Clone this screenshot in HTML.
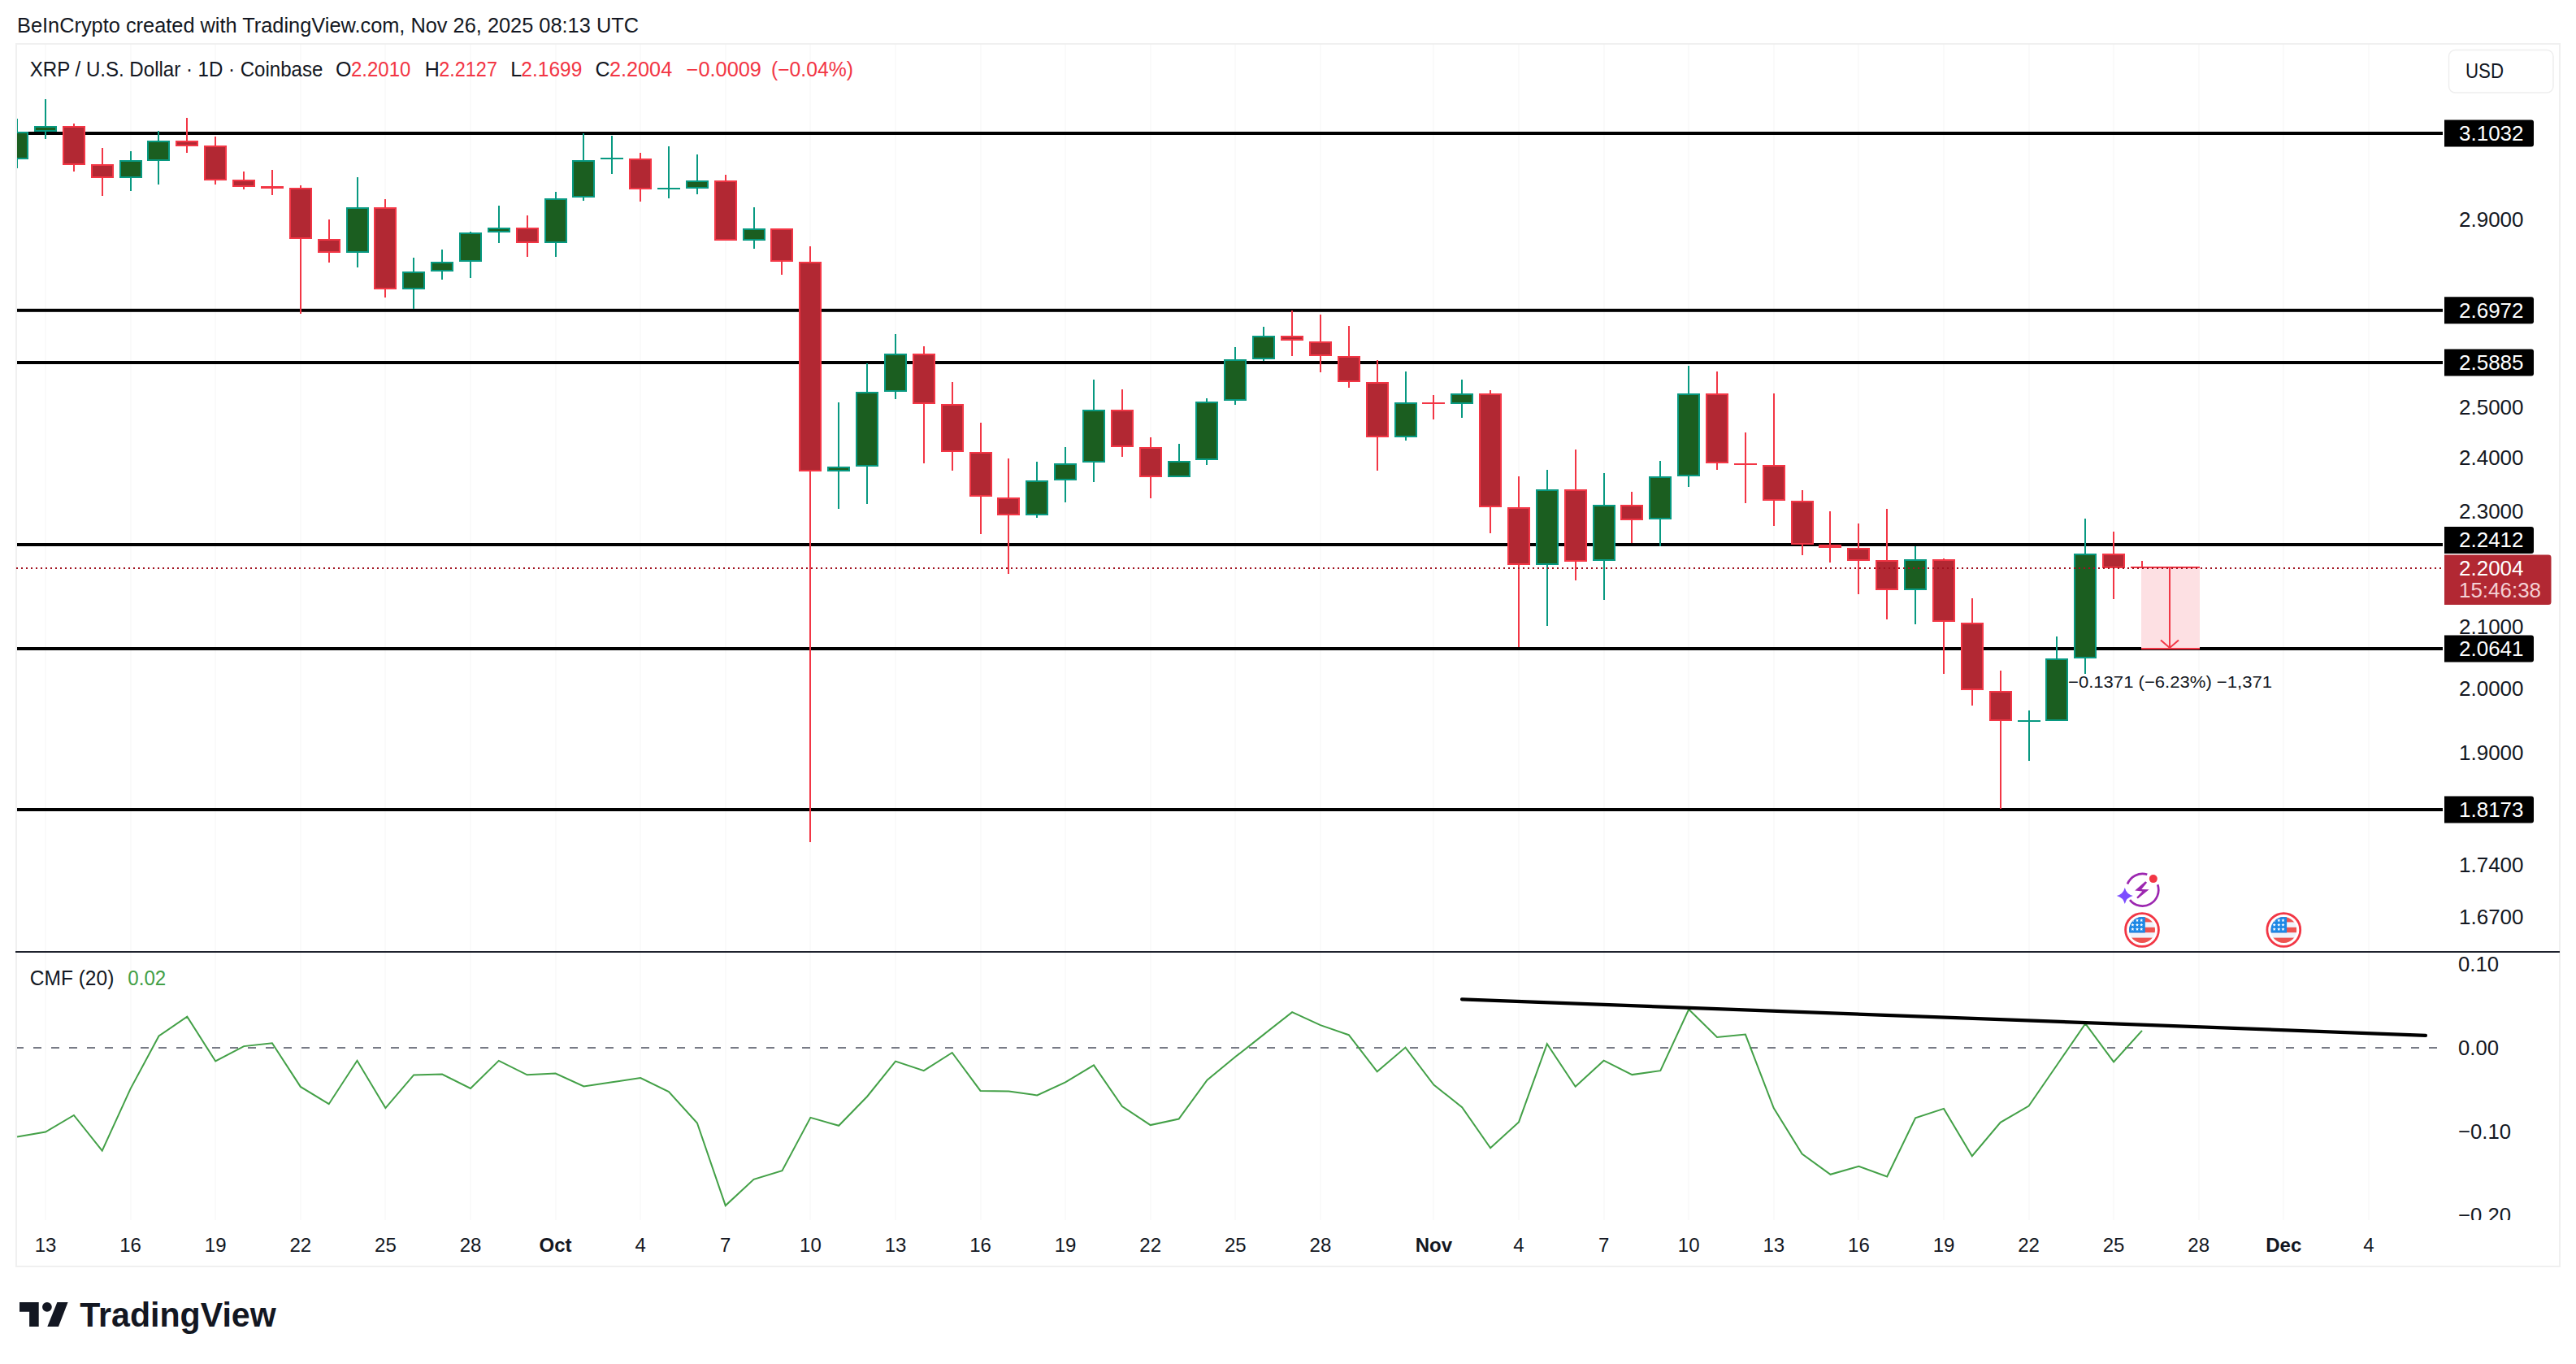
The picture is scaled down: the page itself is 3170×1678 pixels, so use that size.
<!DOCTYPE html><html><head><meta charset="utf-8"><title>XRP / U.S. Dollar chart</title>
<style>html,body{margin:0;padding:0;background:#fff;}body{width:3170px;height:1678px;overflow:hidden;position:relative;font-family:"Liberation Sans", sans-serif;}svg{position:absolute;left:0;top:0;display:block}</style>
</head><body>
<svg width="3170" height="1678" viewBox="0 0 3170 1678" font-family='"Liberation Sans", sans-serif'>
<defs><clipPath id="cp"><rect x="21" y="55" width="2985" height="1115"/></clipPath><clipPath id="cc"><rect x="21" y="1172" width="2985" height="329"/></clipPath><clipPath id="ca"><rect x="3006" y="1172" width="143" height="329"/></clipPath></defs>
<rect x="20" y="54" width="3130" height="1504" fill="none" stroke="#f0f0f0" stroke-width="2"/>
<rect x="55" y="55" width="2" height="1446" fill="#fafafa"/>
<rect x="160" y="55" width="2" height="1446" fill="#fafafa"/>
<rect x="264" y="55" width="2" height="1446" fill="#fafafa"/>
<rect x="369" y="55" width="2" height="1446" fill="#fafafa"/>
<rect x="473" y="55" width="2" height="1446" fill="#fafafa"/>
<rect x="578" y="55" width="2" height="1446" fill="#fafafa"/>
<rect x="683" y="55" width="2" height="1446" fill="#fafafa"/>
<rect x="787" y="55" width="2" height="1446" fill="#fafafa"/>
<rect x="892" y="55" width="2" height="1446" fill="#fafafa"/>
<rect x="996" y="55" width="2" height="1446" fill="#fafafa"/>
<rect x="1101" y="55" width="2" height="1446" fill="#fafafa"/>
<rect x="1206" y="55" width="2" height="1446" fill="#fafafa"/>
<rect x="1310" y="55" width="2" height="1446" fill="#fafafa"/>
<rect x="1415" y="55" width="2" height="1446" fill="#fafafa"/>
<rect x="1519" y="55" width="2" height="1446" fill="#fafafa"/>
<rect x="1624" y="55" width="2" height="1446" fill="#fafafa"/>
<rect x="1763" y="55" width="2" height="1446" fill="#fafafa"/>
<rect x="1868" y="55" width="2" height="1446" fill="#fafafa"/>
<rect x="1973" y="55" width="2" height="1446" fill="#fafafa"/>
<rect x="2077" y="55" width="2" height="1446" fill="#fafafa"/>
<rect x="2182" y="55" width="2" height="1446" fill="#fafafa"/>
<rect x="2286" y="55" width="2" height="1446" fill="#fafafa"/>
<rect x="2391" y="55" width="2" height="1446" fill="#fafafa"/>
<rect x="2496" y="55" width="2" height="1446" fill="#fafafa"/>
<rect x="2600" y="55" width="2" height="1446" fill="#fafafa"/>
<rect x="2705" y="55" width="2" height="1446" fill="#fafafa"/>
<rect x="2809" y="55" width="2" height="1446" fill="#fafafa"/>
<rect x="2914" y="55" width="2" height="1446" fill="#fafafa"/>
<text x="21" y="40" font-size="26" fill="#131722" textLength="765" lengthAdjust="spacingAndGlyphs">BeInCrypto created with TradingView.com, Nov 26, 2025 08:13 UTC</text>
<g clip-path="url(#cp)">
<rect x="19" y="162.0" width="2987" height="4" fill="#000"/>
<rect x="19" y="379.8" width="2987" height="4" fill="#000"/>
<rect x="19" y="444.0" width="2987" height="4" fill="#000"/>
<rect x="19" y="668.0" width="2987" height="4" fill="#000"/>
<rect x="19" y="796.0" width="2987" height="4" fill="#000"/>
<rect x="19" y="994.0" width="2987" height="4" fill="#000"/>
<rect x="20" y="146" width="2" height="61" fill="#089981"/>
<rect x="7" y="162" width="28" height="34" fill="#089981"/>
<rect x="9" y="164" width="24" height="30" fill="#1b5e20"/>
<rect x="55" y="122" width="2" height="49" fill="#089981"/>
<rect x="42" y="155" width="28" height="7" fill="#089981"/>
<rect x="44" y="157" width="24" height="3" fill="#1b5e20"/>
<rect x="90" y="152" width="2" height="59" fill="#f23645"/>
<rect x="77" y="155" width="28" height="48" fill="#f23645"/>
<rect x="79" y="157" width="24" height="44" fill="#b22833"/>
<rect x="125" y="182" width="2" height="59" fill="#f23645"/>
<rect x="112" y="202" width="28" height="17" fill="#f23645"/>
<rect x="114" y="204" width="24" height="13" fill="#b22833"/>
<rect x="160" y="186" width="2" height="49" fill="#089981"/>
<rect x="147" y="197" width="28" height="22" fill="#089981"/>
<rect x="149" y="199" width="24" height="18" fill="#1b5e20"/>
<rect x="194" y="161" width="2" height="66" fill="#089981"/>
<rect x="181" y="173" width="28" height="25" fill="#089981"/>
<rect x="183" y="175" width="24" height="21" fill="#1b5e20"/>
<rect x="229" y="145" width="2" height="43" fill="#f23645"/>
<rect x="216" y="173" width="28" height="7" fill="#f23645"/>
<rect x="218" y="175" width="24" height="3" fill="#b22833"/>
<rect x="264" y="168" width="2" height="59" fill="#f23645"/>
<rect x="251" y="179" width="28" height="43" fill="#f23645"/>
<rect x="253" y="181" width="24" height="39" fill="#b22833"/>
<rect x="299" y="211" width="2" height="22" fill="#f23645"/>
<rect x="286" y="221" width="28" height="9" fill="#f23645"/>
<rect x="288" y="223" width="24" height="5" fill="#b22833"/>
<rect x="334" y="209" width="2" height="31" fill="#f23645"/>
<rect x="321" y="229" width="28" height="3" fill="#f23645"/>
<rect x="369" y="228" width="2" height="158" fill="#f23645"/>
<rect x="356" y="231" width="28" height="63" fill="#f23645"/>
<rect x="358" y="233" width="24" height="59" fill="#b22833"/>
<rect x="404" y="270" width="2" height="53" fill="#f23645"/>
<rect x="391" y="294" width="28" height="17" fill="#f23645"/>
<rect x="393" y="296" width="24" height="13" fill="#b22833"/>
<rect x="439" y="218" width="2" height="111" fill="#089981"/>
<rect x="426" y="255" width="28" height="56" fill="#089981"/>
<rect x="428" y="257" width="24" height="52" fill="#1b5e20"/>
<rect x="473" y="245" width="2" height="121" fill="#f23645"/>
<rect x="460" y="255" width="28" height="101" fill="#f23645"/>
<rect x="462" y="257" width="24" height="97" fill="#b22833"/>
<rect x="508" y="317" width="2" height="63" fill="#089981"/>
<rect x="495" y="334" width="28" height="22" fill="#089981"/>
<rect x="497" y="336" width="24" height="18" fill="#1b5e20"/>
<rect x="543" y="307" width="2" height="37" fill="#089981"/>
<rect x="530" y="322" width="28" height="12" fill="#089981"/>
<rect x="532" y="324" width="24" height="8" fill="#1b5e20"/>
<rect x="578" y="285" width="2" height="57" fill="#089981"/>
<rect x="565" y="286" width="28" height="36" fill="#089981"/>
<rect x="567" y="288" width="24" height="32" fill="#1b5e20"/>
<rect x="613" y="253" width="2" height="46" fill="#089981"/>
<rect x="600" y="280" width="28" height="6" fill="#089981"/>
<rect x="602" y="282" width="24" height="2" fill="#1b5e20"/>
<rect x="648" y="265" width="2" height="51" fill="#f23645"/>
<rect x="635" y="280" width="28" height="19" fill="#f23645"/>
<rect x="637" y="282" width="24" height="15" fill="#b22833"/>
<rect x="683" y="236" width="2" height="80" fill="#089981"/>
<rect x="670" y="244" width="28" height="55" fill="#089981"/>
<rect x="672" y="246" width="24" height="51" fill="#1b5e20"/>
<rect x="717" y="164" width="2" height="83" fill="#089981"/>
<rect x="704" y="197" width="28" height="46" fill="#089981"/>
<rect x="706" y="199" width="24" height="42" fill="#1b5e20"/>
<rect x="752" y="167" width="2" height="47" fill="#089981"/>
<rect x="739" y="194" width="28" height="2" fill="#089981"/>
<rect x="787" y="188" width="2" height="60" fill="#f23645"/>
<rect x="774" y="195" width="28" height="38" fill="#f23645"/>
<rect x="776" y="197" width="24" height="34" fill="#b22833"/>
<rect x="822" y="180" width="2" height="64" fill="#089981"/>
<rect x="809" y="231" width="28" height="2" fill="#089981"/>
<rect x="857" y="190" width="2" height="49" fill="#089981"/>
<rect x="844" y="222" width="28" height="10" fill="#089981"/>
<rect x="846" y="224" width="24" height="6" fill="#1b5e20"/>
<rect x="892" y="215" width="2" height="81" fill="#f23645"/>
<rect x="879" y="222" width="28" height="74" fill="#f23645"/>
<rect x="881" y="224" width="24" height="70" fill="#b22833"/>
<rect x="927" y="255" width="2" height="51" fill="#089981"/>
<rect x="914" y="281" width="28" height="15" fill="#089981"/>
<rect x="916" y="283" width="24" height="11" fill="#1b5e20"/>
<rect x="961" y="281" width="2" height="57" fill="#f23645"/>
<rect x="948" y="281" width="28" height="41" fill="#f23645"/>
<rect x="950" y="283" width="24" height="37" fill="#b22833"/>
<rect x="996" y="303" width="2" height="733" fill="#f23645"/>
<rect x="983" y="322" width="28" height="258" fill="#f23645"/>
<rect x="985" y="324" width="24" height="254" fill="#b22833"/>
<rect x="1031" y="495" width="2" height="131" fill="#089981"/>
<rect x="1018" y="574" width="28" height="6" fill="#089981"/>
<rect x="1020" y="576" width="24" height="2" fill="#1b5e20"/>
<rect x="1066" y="447" width="2" height="173" fill="#089981"/>
<rect x="1053" y="482" width="28" height="92" fill="#089981"/>
<rect x="1055" y="484" width="24" height="88" fill="#1b5e20"/>
<rect x="1101" y="411" width="2" height="80" fill="#089981"/>
<rect x="1088" y="435" width="28" height="47" fill="#089981"/>
<rect x="1090" y="437" width="24" height="43" fill="#1b5e20"/>
<rect x="1136" y="426" width="2" height="144" fill="#f23645"/>
<rect x="1123" y="435" width="28" height="62" fill="#f23645"/>
<rect x="1125" y="437" width="24" height="58" fill="#b22833"/>
<rect x="1171" y="470" width="2" height="109" fill="#f23645"/>
<rect x="1158" y="497" width="28" height="59" fill="#f23645"/>
<rect x="1160" y="499" width="24" height="55" fill="#b22833"/>
<rect x="1206" y="520" width="2" height="137" fill="#f23645"/>
<rect x="1193" y="556" width="28" height="55" fill="#f23645"/>
<rect x="1195" y="558" width="24" height="51" fill="#b22833"/>
<rect x="1240" y="564" width="2" height="142" fill="#f23645"/>
<rect x="1227" y="612" width="28" height="22" fill="#f23645"/>
<rect x="1229" y="614" width="24" height="18" fill="#b22833"/>
<rect x="1275" y="568" width="2" height="69" fill="#089981"/>
<rect x="1262" y="591" width="28" height="43" fill="#089981"/>
<rect x="1264" y="593" width="24" height="39" fill="#1b5e20"/>
<rect x="1310" y="550" width="2" height="68" fill="#089981"/>
<rect x="1297" y="570" width="28" height="21" fill="#089981"/>
<rect x="1299" y="572" width="24" height="17" fill="#1b5e20"/>
<rect x="1345" y="467" width="2" height="126" fill="#089981"/>
<rect x="1332" y="504" width="28" height="65" fill="#089981"/>
<rect x="1334" y="506" width="24" height="61" fill="#1b5e20"/>
<rect x="1380" y="479" width="2" height="83" fill="#f23645"/>
<rect x="1367" y="504" width="28" height="46" fill="#f23645"/>
<rect x="1369" y="506" width="24" height="42" fill="#b22833"/>
<rect x="1415" y="538" width="2" height="75" fill="#f23645"/>
<rect x="1402" y="550" width="28" height="37" fill="#f23645"/>
<rect x="1404" y="552" width="24" height="33" fill="#b22833"/>
<rect x="1450" y="546" width="2" height="41" fill="#089981"/>
<rect x="1437" y="567" width="28" height="20" fill="#089981"/>
<rect x="1439" y="569" width="24" height="16" fill="#1b5e20"/>
<rect x="1484" y="490" width="2" height="82" fill="#089981"/>
<rect x="1471" y="494" width="28" height="72" fill="#089981"/>
<rect x="1473" y="496" width="24" height="68" fill="#1b5e20"/>
<rect x="1519" y="427" width="2" height="71" fill="#089981"/>
<rect x="1506" y="442" width="28" height="51" fill="#089981"/>
<rect x="1508" y="444" width="24" height="47" fill="#1b5e20"/>
<rect x="1554" y="402" width="2" height="42" fill="#089981"/>
<rect x="1541" y="413" width="28" height="29" fill="#089981"/>
<rect x="1543" y="415" width="24" height="25" fill="#1b5e20"/>
<rect x="1589" y="382" width="2" height="56" fill="#f23645"/>
<rect x="1576" y="413" width="28" height="6" fill="#f23645"/>
<rect x="1578" y="415" width="24" height="2" fill="#b22833"/>
<rect x="1624" y="387" width="2" height="71" fill="#f23645"/>
<rect x="1611" y="420" width="28" height="18" fill="#f23645"/>
<rect x="1613" y="422" width="24" height="14" fill="#b22833"/>
<rect x="1659" y="401" width="2" height="76" fill="#f23645"/>
<rect x="1646" y="438" width="28" height="32" fill="#f23645"/>
<rect x="1648" y="440" width="24" height="28" fill="#b22833"/>
<rect x="1694" y="443" width="2" height="136" fill="#f23645"/>
<rect x="1681" y="470" width="28" height="68" fill="#f23645"/>
<rect x="1683" y="472" width="24" height="64" fill="#b22833"/>
<rect x="1729" y="457" width="2" height="85" fill="#089981"/>
<rect x="1716" y="495" width="28" height="43" fill="#089981"/>
<rect x="1718" y="497" width="24" height="39" fill="#1b5e20"/>
<rect x="1763" y="486" width="2" height="30" fill="#f23645"/>
<rect x="1750" y="495" width="28" height="2" fill="#f23645"/>
<rect x="1798" y="467" width="2" height="47" fill="#089981"/>
<rect x="1785" y="484" width="28" height="13" fill="#089981"/>
<rect x="1787" y="486" width="24" height="9" fill="#1b5e20"/>
<rect x="1833" y="480" width="2" height="176" fill="#f23645"/>
<rect x="1820" y="484" width="28" height="140" fill="#f23645"/>
<rect x="1822" y="486" width="24" height="136" fill="#b22833"/>
<rect x="1868" y="586" width="2" height="210" fill="#f23645"/>
<rect x="1855" y="624" width="28" height="71" fill="#f23645"/>
<rect x="1857" y="626" width="24" height="67" fill="#b22833"/>
<rect x="1903" y="578" width="2" height="192" fill="#089981"/>
<rect x="1890" y="602" width="28" height="93" fill="#089981"/>
<rect x="1892" y="604" width="24" height="89" fill="#1b5e20"/>
<rect x="1938" y="553" width="2" height="161" fill="#f23645"/>
<rect x="1925" y="602" width="28" height="89" fill="#f23645"/>
<rect x="1927" y="604" width="24" height="85" fill="#b22833"/>
<rect x="1973" y="582" width="2" height="156" fill="#089981"/>
<rect x="1960" y="621" width="28" height="69" fill="#089981"/>
<rect x="1962" y="623" width="24" height="65" fill="#1b5e20"/>
<rect x="2007" y="605" width="2" height="63" fill="#f23645"/>
<rect x="1994" y="621" width="28" height="19" fill="#f23645"/>
<rect x="1996" y="623" width="24" height="15" fill="#b22833"/>
<rect x="2042" y="567" width="2" height="105" fill="#089981"/>
<rect x="2029" y="586" width="28" height="53" fill="#089981"/>
<rect x="2031" y="588" width="24" height="49" fill="#1b5e20"/>
<rect x="2077" y="450" width="2" height="149" fill="#089981"/>
<rect x="2064" y="484" width="28" height="102" fill="#089981"/>
<rect x="2066" y="486" width="24" height="98" fill="#1b5e20"/>
<rect x="2112" y="457" width="2" height="121" fill="#f23645"/>
<rect x="2099" y="484" width="28" height="86" fill="#f23645"/>
<rect x="2101" y="486" width="24" height="82" fill="#b22833"/>
<rect x="2147" y="532" width="2" height="87" fill="#f23645"/>
<rect x="2134" y="570" width="28" height="2" fill="#f23645"/>
<rect x="2182" y="484" width="2" height="163" fill="#f23645"/>
<rect x="2169" y="572" width="28" height="44" fill="#f23645"/>
<rect x="2171" y="574" width="24" height="40" fill="#b22833"/>
<rect x="2217" y="603" width="2" height="80" fill="#f23645"/>
<rect x="2204" y="616" width="28" height="54" fill="#f23645"/>
<rect x="2206" y="618" width="24" height="50" fill="#b22833"/>
<rect x="2251" y="629" width="2" height="63" fill="#f23645"/>
<rect x="2238" y="670" width="28" height="4" fill="#f23645"/>
<rect x="2286" y="644" width="2" height="87" fill="#f23645"/>
<rect x="2273" y="674" width="28" height="16" fill="#f23645"/>
<rect x="2275" y="676" width="24" height="12" fill="#b22833"/>
<rect x="2321" y="626" width="2" height="136" fill="#f23645"/>
<rect x="2308" y="689" width="28" height="37" fill="#f23645"/>
<rect x="2310" y="691" width="24" height="33" fill="#b22833"/>
<rect x="2356" y="672" width="2" height="96" fill="#089981"/>
<rect x="2343" y="688" width="28" height="38" fill="#089981"/>
<rect x="2345" y="690" width="24" height="34" fill="#1b5e20"/>
<rect x="2391" y="687" width="2" height="142" fill="#f23645"/>
<rect x="2378" y="688" width="28" height="77" fill="#f23645"/>
<rect x="2380" y="690" width="24" height="73" fill="#b22833"/>
<rect x="2426" y="736" width="2" height="132" fill="#f23645"/>
<rect x="2413" y="766" width="28" height="83" fill="#f23645"/>
<rect x="2415" y="768" width="24" height="79" fill="#b22833"/>
<rect x="2461" y="825" width="2" height="170" fill="#f23645"/>
<rect x="2448" y="850" width="28" height="37" fill="#f23645"/>
<rect x="2450" y="852" width="24" height="33" fill="#b22833"/>
<rect x="2496" y="874" width="2" height="62" fill="#089981"/>
<rect x="2483" y="886" width="28" height="2" fill="#089981"/>
<rect x="2530" y="783" width="2" height="104" fill="#089981"/>
<rect x="2517" y="810" width="28" height="77" fill="#089981"/>
<rect x="2519" y="812" width="24" height="73" fill="#1b5e20"/>
<rect x="2565" y="638" width="2" height="191" fill="#089981"/>
<rect x="2552" y="681" width="28" height="129" fill="#089981"/>
<rect x="2554" y="683" width="24" height="125" fill="#1b5e20"/>
<rect x="2600" y="654" width="2" height="83" fill="#f23645"/>
<rect x="2587" y="681" width="28" height="18" fill="#f23645"/>
<rect x="2589" y="683" width="24" height="14" fill="#b22833"/>
<rect x="2635" y="690" width="2" height="30" fill="#f23645"/>
<rect x="2622" y="697" width="28" height="2" fill="#f23645"/>
</g>
<rect x="2635" y="698" width="72" height="100" fill="#fde0e3"/>
<rect x="2635" y="697" width="72" height="2" fill="#f23645"/>
<rect x="2635" y="797" width="72" height="2" fill="#f23645"/>
<rect x="2669" y="698" width="2" height="99" fill="#f23645"/>
<polyline points="2659,787.5 2670,797 2681,787.5" fill="none" stroke="#f23645" stroke-width="2"/>
<text x="2545" y="846" font-size="21" fill="#131722" textLength="251" lengthAdjust="spacingAndGlyphs">−0.1371 (−6.23%) −1,371</text>
<line x1="20" y1="699" x2="3006" y2="699" stroke="#a0101e" stroke-width="2" stroke-dasharray="2 4"/>
<text x="36.8" y="94.0" font-size="25" fill="#131722" textLength="360.6" lengthAdjust="spacingAndGlyphs">XRP / U.S. Dollar · 1D · Coinbase</text>
<text x="413.0" y="94.0" font-size="25" fill="#131722">O</text>
<text x="432.0" y="94.0" font-size="25" fill="#f23645" textLength="73.3" lengthAdjust="spacingAndGlyphs">2.2010</text>
<text x="522.8" y="94.0" font-size="25" fill="#131722">H</text>
<text x="540.2" y="94.0" font-size="25" fill="#f23645" textLength="71.8" lengthAdjust="spacingAndGlyphs">2.2127</text>
<text x="628.3" y="94.0" font-size="25" fill="#131722">L</text>
<text x="641.3" y="94.0" font-size="25" fill="#f23645" textLength="75.0" lengthAdjust="spacingAndGlyphs">2.1699</text>
<text x="732.6" y="94.0" font-size="25" fill="#131722">C</text>
<text x="750.0" y="94.0" font-size="25" fill="#f23645" textLength="77.2" lengthAdjust="spacingAndGlyphs">2.2004</text>
<text x="844.6" y="94.0" font-size="25" fill="#f23645" textLength="92.4" lengthAdjust="spacingAndGlyphs">−0.0009</text>
<text x="948.9" y="94.0" font-size="25" fill="#f23645" textLength="101.1" lengthAdjust="spacingAndGlyphs">(−0.04%)</text>
<rect x="3013.5" y="61.5" width="128.5" height="52.5" rx="8" ry="8" fill="#fff" stroke="#eeeeee" stroke-width="1.5"/>
<text x="3034.0" y="96.0" font-size="25" fill="#131722" textLength="47.0" lengthAdjust="spacingAndGlyphs">USD</text>
<text x="3026.0" y="278.7" font-size="26" fill="#131722" textLength="79.5" lengthAdjust="spacingAndGlyphs">2.9000</text>
<text x="3026.0" y="509.6" font-size="26" fill="#131722" textLength="79.5" lengthAdjust="spacingAndGlyphs">2.5000</text>
<text x="3026.0" y="572.3" font-size="26" fill="#131722" textLength="79.5" lengthAdjust="spacingAndGlyphs">2.4000</text>
<text x="3026.0" y="638.3" font-size="26" fill="#131722" textLength="79.5" lengthAdjust="spacingAndGlyphs">2.3000</text>
<text x="3026.0" y="780.4" font-size="26" fill="#131722" textLength="79.5" lengthAdjust="spacingAndGlyphs">2.1000</text>
<text x="3026.0" y="855.6" font-size="26" fill="#131722" textLength="79.5" lengthAdjust="spacingAndGlyphs">2.0000</text>
<text x="3026.0" y="935.4" font-size="26" fill="#131722" textLength="79.5" lengthAdjust="spacingAndGlyphs">1.9000</text>
<text x="3026.0" y="1072.6" font-size="26" fill="#131722" textLength="79.5" lengthAdjust="spacingAndGlyphs">1.7400</text>
<text x="3026.0" y="1136.8" font-size="26" fill="#131722" textLength="79.5" lengthAdjust="spacingAndGlyphs">1.6700</text>
<path d="M3008 147.5 H3115 a3 3 0 0 1 3 3 V177.5 a3 3 0 0 1 -3 3 H3008 Z" fill="#000"/>
<text x="3026.0" y="172.8" font-size="26" fill="#fff" textLength="79.5" lengthAdjust="spacingAndGlyphs">3.1032</text>
<path d="M3008 365.3 H3115 a3 3 0 0 1 3 3 V395.3 a3 3 0 0 1 -3 3 H3008 Z" fill="#000"/>
<text x="3026.0" y="390.6" font-size="26" fill="#fff" textLength="79.5" lengthAdjust="spacingAndGlyphs">2.6972</text>
<path d="M3008 429.5 H3115 a3 3 0 0 1 3 3 V459.5 a3 3 0 0 1 -3 3 H3008 Z" fill="#000"/>
<text x="3026.0" y="454.8" font-size="26" fill="#fff" textLength="79.5" lengthAdjust="spacingAndGlyphs">2.5885</text>
<path d="M3008 648.0 H3115 a3 3 0 0 1 3 3 V678.0 a3 3 0 0 1 -3 3 H3008 Z" fill="#000"/>
<text x="3026.0" y="673.3" font-size="26" fill="#fff" textLength="79.5" lengthAdjust="spacingAndGlyphs">2.2412</text>
<path d="M3008 781.5 H3115 a3 3 0 0 1 3 3 V811.5 a3 3 0 0 1 -3 3 H3008 Z" fill="#000"/>
<text x="3026.0" y="806.8" font-size="26" fill="#fff" textLength="79.5" lengthAdjust="spacingAndGlyphs">2.0641</text>
<path d="M3008 979.5 H3115 a3 3 0 0 1 3 3 V1009.5 a3 3 0 0 1 -3 3 H3008 Z" fill="#000"/>
<text x="3026.0" y="1004.8" font-size="26" fill="#fff" textLength="79.5" lengthAdjust="spacingAndGlyphs">1.8173</text>
<path d="M3008 682.5 H3136 a3.5 3.5 0 0 1 3.5 3.5 V740.5 a3.5 3.5 0 0 1 -3.5 3.5 H3008 Z" fill="#b22833"/>
<text x="3026.0" y="707.5" font-size="26" fill="#fff" textLength="79.5" lengthAdjust="spacingAndGlyphs">2.2004</text>
<text x="3026.0" y="735.4" font-size="26" fill="#f4d0d4" textLength="101.0" lengthAdjust="spacingAndGlyphs">15:46:38</text>
<g>
<path d="M2642.3 1075.8 A19.8 19.8 0 0 0 2618.0 1087.6" fill="none" stroke="#9c27b0" stroke-width="2.7"/>
<path d="M2655.2 1088.3 A19.8 19.8 0 0 1 2621.0 1107.1" fill="none" stroke="#9c27b0" stroke-width="2.7"/>
<circle cx="2649.8" cy="1081.1" r="5" fill="#f23645"/>
<path d="M2640.1 1084.2 L2642.1 1085.8 L2635.3 1093.9 L2644.6 1094.3 L2630.8 1105.6 L2629.2 1104 L2636.3 1096.6 L2627.2 1095.5 Z" fill="#9c27b0"/>
<path d="M2614.8 1091.9 Q2616.8 1099.9 2624.8 1101.9 Q2616.8 1103.9 2614.8 1111.9 Q2612.8 1103.9 2604.8 1101.9 Q2612.8 1099.9 2614.8 1091.9 Z" fill="#7c4dff"/>
<circle cx="2636.0" cy="1144.0" r="20.4" fill="#fff" stroke="#f23645" stroke-width="2.8"/>
<clipPath id="fl2636"><circle cx="2636.0" cy="1144.0" r="16"/></clipPath>
<g clip-path="url(#fl2636)">
<rect x="2620.0" y="1128.0" width="32" height="32" fill="#f0f3fa"/>
<rect x="2620.0" y="1128.0" width="32" height="6.4" fill="#ef5350"/>
<rect x="2620.0" y="1140.8" width="32" height="6.4" fill="#ef5350"/>
<rect x="2620.0" y="1153.6" width="32" height="6.4" fill="#ef5350"/>
<rect x="2620.0" y="1128.0" width="19.8" height="19.5" fill="#1e88e5"/>
<polygon points="2624.40,1130.00 2624.98,1131.40 2626.49,1131.52 2625.34,1132.51 2625.69,1133.98 2624.40,1133.19 2623.11,1133.98 2623.46,1132.51 2622.31,1131.52 2623.82,1131.40" fill="#fff"/>
<polygon points="2624.40,1135.60 2624.98,1137.00 2626.49,1137.12 2625.34,1138.11 2625.69,1139.58 2624.40,1138.79 2623.11,1139.58 2623.46,1138.11 2622.31,1137.12 2623.82,1137.00" fill="#fff"/>
<polygon points="2624.40,1140.90 2624.98,1142.30 2626.49,1142.42 2625.34,1143.41 2625.69,1144.88 2624.40,1144.09 2623.11,1144.88 2623.46,1143.41 2622.31,1142.42 2623.82,1142.30" fill="#fff"/>
<polygon points="2630.00,1130.00 2630.58,1131.40 2632.09,1131.52 2630.94,1132.51 2631.29,1133.98 2630.00,1133.19 2628.71,1133.98 2629.06,1132.51 2627.91,1131.52 2629.42,1131.40" fill="#fff"/>
<polygon points="2630.00,1135.60 2630.58,1137.00 2632.09,1137.12 2630.94,1138.11 2631.29,1139.58 2630.00,1138.79 2628.71,1139.58 2629.06,1138.11 2627.91,1137.12 2629.42,1137.00" fill="#fff"/>
<polygon points="2630.00,1140.90 2630.58,1142.30 2632.09,1142.42 2630.94,1143.41 2631.29,1144.88 2630.00,1144.09 2628.71,1144.88 2629.06,1143.41 2627.91,1142.42 2629.42,1142.30" fill="#fff"/>
<polygon points="2635.20,1130.00 2635.78,1131.40 2637.29,1131.52 2636.14,1132.51 2636.49,1133.98 2635.20,1133.19 2633.91,1133.98 2634.26,1132.51 2633.11,1131.52 2634.62,1131.40" fill="#fff"/>
<polygon points="2635.20,1135.60 2635.78,1137.00 2637.29,1137.12 2636.14,1138.11 2636.49,1139.58 2635.20,1138.79 2633.91,1139.58 2634.26,1138.11 2633.11,1137.12 2634.62,1137.00" fill="#fff"/>
<polygon points="2635.20,1140.90 2635.78,1142.30 2637.29,1142.42 2636.14,1143.41 2636.49,1144.88 2635.20,1144.09 2633.91,1144.88 2634.26,1143.41 2633.11,1142.42 2634.62,1142.30" fill="#fff"/>
</g>
<circle cx="2810.3" cy="1144.0" r="20.4" fill="#fff" stroke="#f23645" stroke-width="2.8"/>
<clipPath id="fl2810"><circle cx="2810.3" cy="1144.0" r="16"/></clipPath>
<g clip-path="url(#fl2810)">
<rect x="2794.3" y="1128.0" width="32" height="32" fill="#f0f3fa"/>
<rect x="2794.3" y="1128.0" width="32" height="6.4" fill="#ef5350"/>
<rect x="2794.3" y="1140.8" width="32" height="6.4" fill="#ef5350"/>
<rect x="2794.3" y="1153.6" width="32" height="6.4" fill="#ef5350"/>
<rect x="2794.3" y="1128.0" width="19.8" height="19.5" fill="#1e88e5"/>
<polygon points="2798.70,1130.00 2799.28,1131.40 2800.79,1131.52 2799.64,1132.51 2799.99,1133.98 2798.70,1133.19 2797.41,1133.98 2797.76,1132.51 2796.61,1131.52 2798.12,1131.40" fill="#fff"/>
<polygon points="2798.70,1135.60 2799.28,1137.00 2800.79,1137.12 2799.64,1138.11 2799.99,1139.58 2798.70,1138.79 2797.41,1139.58 2797.76,1138.11 2796.61,1137.12 2798.12,1137.00" fill="#fff"/>
<polygon points="2798.70,1140.90 2799.28,1142.30 2800.79,1142.42 2799.64,1143.41 2799.99,1144.88 2798.70,1144.09 2797.41,1144.88 2797.76,1143.41 2796.61,1142.42 2798.12,1142.30" fill="#fff"/>
<polygon points="2804.30,1130.00 2804.88,1131.40 2806.39,1131.52 2805.24,1132.51 2805.59,1133.98 2804.30,1133.19 2803.01,1133.98 2803.36,1132.51 2802.21,1131.52 2803.72,1131.40" fill="#fff"/>
<polygon points="2804.30,1135.60 2804.88,1137.00 2806.39,1137.12 2805.24,1138.11 2805.59,1139.58 2804.30,1138.79 2803.01,1139.58 2803.36,1138.11 2802.21,1137.12 2803.72,1137.00" fill="#fff"/>
<polygon points="2804.30,1140.90 2804.88,1142.30 2806.39,1142.42 2805.24,1143.41 2805.59,1144.88 2804.30,1144.09 2803.01,1144.88 2803.36,1143.41 2802.21,1142.42 2803.72,1142.30" fill="#fff"/>
<polygon points="2809.50,1130.00 2810.08,1131.40 2811.59,1131.52 2810.44,1132.51 2810.79,1133.98 2809.50,1133.19 2808.21,1133.98 2808.56,1132.51 2807.41,1131.52 2808.92,1131.40" fill="#fff"/>
<polygon points="2809.50,1135.60 2810.08,1137.00 2811.59,1137.12 2810.44,1138.11 2810.79,1139.58 2809.50,1138.79 2808.21,1139.58 2808.56,1138.11 2807.41,1137.12 2808.92,1137.00" fill="#fff"/>
<polygon points="2809.50,1140.90 2810.08,1142.30 2811.59,1142.42 2810.44,1143.41 2810.79,1144.88 2809.50,1144.09 2808.21,1144.88 2808.56,1143.41 2807.41,1142.42 2808.92,1142.30" fill="#fff"/>
</g>
</g>
<rect x="19" y="1170" width="3131" height="2" fill="#1e222d"/>
<g clip-path="url(#cc)">
<line x1="19" y1="1289" x2="3006" y2="1289" stroke="#787b86" stroke-width="2" stroke-dasharray="10 12"/>
<polyline points="21.1,1398.6 56.0,1392.6 90.9,1372.0 125.7,1415.6 160.6,1339.4 195.5,1274.5 230.3,1250.6 265.2,1305.5 300.1,1287.1 334.9,1283.2 369.8,1336.9 404.7,1358.2 439.5,1304.8 474.4,1363.1 509.2,1322.4 544.1,1321.6 579.0,1339.0 613.8,1304.9 648.7,1322.3 683.6,1320.5 718.4,1336.4 753.3,1331.3 788.2,1326.0 823.0,1343.0 857.9,1381.5 892.8,1483.1 927.6,1450.8 962.5,1440.2 997.4,1374.9 1032.2,1384.8 1067.1,1349.0 1102.0,1305.6 1136.8,1317.2 1171.7,1295.0 1206.5,1341.9 1241.4,1342.5 1276.3,1347.4 1311.1,1331.3 1346.0,1310.4 1380.9,1361.0 1415.7,1384.1 1450.6,1376.6 1485.5,1328.7 1520.3,1300.1 1555.2,1272.6 1590.1,1245.1 1624.9,1261.1 1659.8,1273.2 1694.7,1318.3 1729.5,1288.6 1764.4,1334.6 1799.2,1362.1 1834.1,1412.3 1869.0,1380.4 1903.8,1284.2 1938.7,1336.8 1973.6,1304.7 2008.4,1322.1 2043.3,1317.2 2078.2,1241.8 2113.0,1275.9 2147.9,1272.6 2182.8,1363.4 2217.6,1419.5 2252.5,1444.8 2287.4,1434.9 2322.2,1447.5 2357.1,1375.3 2392.0,1363.9 2426.8,1422.2 2461.7,1380.8 2496.6,1360.6 2531.4,1310.0 2566.3,1259.3 2601.1,1306.3 2636.0,1267.8" fill="none" stroke="#43a047" stroke-width="2" stroke-linejoin="miter"/>
<line x1="1799" y1="1229.3" x2="2985" y2="1273.8" stroke="#000" stroke-width="4.2" stroke-linecap="round"/>
</g>
<text x="36.8" y="1212.3" font-size="25" fill="#131722" textLength="103.5" lengthAdjust="spacingAndGlyphs">CMF (20)</text>
<text x="157.3" y="1212.3" font-size="25" fill="#43a047" textLength="47.0" lengthAdjust="spacingAndGlyphs">0.02</text>
<g clip-path="url(#ca)">
<text x="3025.0" y="1195.3" font-size="26" fill="#131722" textLength="50.0" lengthAdjust="spacingAndGlyphs">0.10</text>
<text x="3025.0" y="1298.1" font-size="26" fill="#131722" textLength="50.0" lengthAdjust="spacingAndGlyphs">0.00</text>
<text x="3025.0" y="1401.2" font-size="26" fill="#131722" textLength="65.0" lengthAdjust="spacingAndGlyphs">−0.10</text>
<text x="3025.0" y="1503.8" font-size="26" fill="#131722" textLength="65.0" lengthAdjust="spacingAndGlyphs">−0.20</text>
</g>
<text x="56.0" y="1540.0" font-size="24" fill="#131722" text-anchor="middle">13</text>
<text x="160.6" y="1540.0" font-size="24" fill="#131722" text-anchor="middle">16</text>
<text x="265.2" y="1540.0" font-size="24" fill="#131722" text-anchor="middle">19</text>
<text x="369.8" y="1540.0" font-size="24" fill="#131722" text-anchor="middle">22</text>
<text x="474.4" y="1540.0" font-size="24" fill="#131722" text-anchor="middle">25</text>
<text x="579.0" y="1540.0" font-size="24" fill="#131722" text-anchor="middle">28</text>
<text x="683.6" y="1540.0" font-size="24" fill="#131722" font-weight="bold" text-anchor="middle">Oct</text>
<text x="788.2" y="1540.0" font-size="24" fill="#131722" text-anchor="middle">4</text>
<text x="892.8" y="1540.0" font-size="24" fill="#131722" text-anchor="middle">7</text>
<text x="997.4" y="1540.0" font-size="24" fill="#131722" text-anchor="middle">10</text>
<text x="1102.0" y="1540.0" font-size="24" fill="#131722" text-anchor="middle">13</text>
<text x="1206.5" y="1540.0" font-size="24" fill="#131722" text-anchor="middle">16</text>
<text x="1311.1" y="1540.0" font-size="24" fill="#131722" text-anchor="middle">19</text>
<text x="1415.7" y="1540.0" font-size="24" fill="#131722" text-anchor="middle">22</text>
<text x="1520.3" y="1540.0" font-size="24" fill="#131722" text-anchor="middle">25</text>
<text x="1624.9" y="1540.0" font-size="24" fill="#131722" text-anchor="middle">28</text>
<text x="1764.4" y="1540.0" font-size="24" fill="#131722" font-weight="bold" text-anchor="middle">Nov</text>
<text x="1869.0" y="1540.0" font-size="24" fill="#131722" text-anchor="middle">4</text>
<text x="1973.6" y="1540.0" font-size="24" fill="#131722" text-anchor="middle">7</text>
<text x="2078.2" y="1540.0" font-size="24" fill="#131722" text-anchor="middle">10</text>
<text x="2182.8" y="1540.0" font-size="24" fill="#131722" text-anchor="middle">13</text>
<text x="2287.4" y="1540.0" font-size="24" fill="#131722" text-anchor="middle">16</text>
<text x="2392.0" y="1540.0" font-size="24" fill="#131722" text-anchor="middle">19</text>
<text x="2496.6" y="1540.0" font-size="24" fill="#131722" text-anchor="middle">22</text>
<text x="2601.1" y="1540.0" font-size="24" fill="#131722" text-anchor="middle">25</text>
<text x="2705.7" y="1540.0" font-size="24" fill="#131722" text-anchor="middle">28</text>
<text x="2810.3" y="1540.0" font-size="24" fill="#131722" font-weight="bold" text-anchor="middle">Dec</text>
<text x="2914.9" y="1540.0" font-size="24" fill="#131722" text-anchor="middle">4</text>
<path d="M24 1602 H47.7 V1632 H36.1 V1613.8 H24 Z" fill="#131722"/>
<circle cx="57.9" cy="1607.8" r="5.9" fill="#131722"/>
<path d="M70.4 1602 H83.6 L72 1632 H58.3 Z" fill="#131722"/>
<text x="98.2" y="1632.0" font-size="43" fill="#131722" textLength="241.5" lengthAdjust="spacingAndGlyphs" font-weight="bold">TradingView</text>
</svg></body></html>
